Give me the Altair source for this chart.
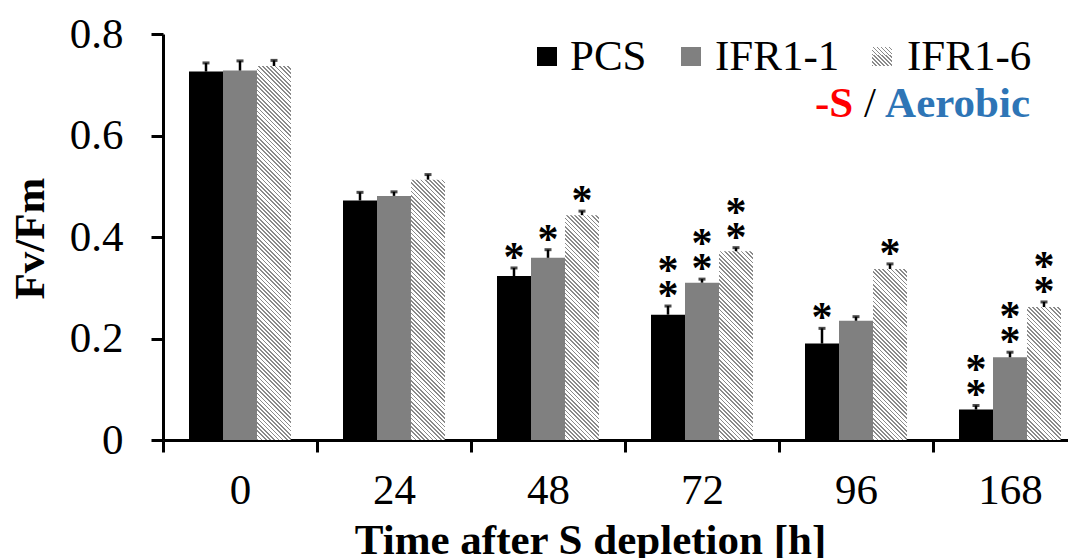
import altair as alt
import pandas as pd

# ---- data ----
times = ["0", "24", "48", "72", "96", "168"]
series = ["PCS", "IFR1-1", "IFR1-6"]
pcs = [0.726, 0.472, 0.323, 0.247, 0.190, 0.060]
ifr11 = [0.728, 0.481, 0.359, 0.310, 0.235, 0.163]
ifr16 = [0.737, 0.513, 0.443, 0.372, 0.337, 0.262]
err_pcs = [0.017, 0.016, 0.016, 0.017, 0.030, 0.008]
err_ifr11 = [0.019, 0.008, 0.016, 0.007, 0.008, 0.010]
err_ifr16 = [0.011, 0.010, 0.008, 0.007, 0.010, 0.010]
stars_pcs = [0, 0, 1, 2, 1, 2]
stars_ifr11 = [0, 0, 1, 2, 0, 2]
stars_ifr16 = [0, 0, 1, 2, 1, 2]

rows = []
for i, t in enumerate(times):
    for s, vals, errs, st in zip(series, [pcs, ifr11, ifr16],
                                 [err_pcs, err_ifr11, err_ifr16],
                                 [stars_pcs, stars_ifr11, stars_ifr16]):
        rows.append(dict(time=t, series=s, value=vals[i], top=vals[i] + errs[i], stars=st[i]))
df = pd.DataFrame(rows)

FONT = "Liberation Serif"
FS = 43
PLOT_H = 406
YMAX = 0.8
BAR_W = 34
PX_PER_UNIT = PLOT_H / YMAX


def stripes(w, h, period=4.2, frac=0.4, color="#8a8a8a"):
    n = max(1, round((w + h) / period))
    s = (w + h) / (w * w + h * h)
    stops = []
    for k in range(n):
        a, b, c = k / n, (k + frac) / n, (k + 1) / n
        stops += [alt.GradientStop(offset=a, color=color),
                  alt.GradientStop(offset=b, color=color),
                  alt.GradientStop(offset=b, color="#ffffff"),
                  alt.GradientStop(offset=c, color="#ffffff")]
    return alt.LinearGradient(gradient="linear", stops=stops,
                              x1=0, y1=1, x2=s * w, y2=1 - s * h)


yscale = alt.Scale(domain=[0, YMAX], nice=False, zero=True)
xscale = alt.Scale(domain=times, range=[0, 924], paddingInner=0, paddingOuter=0)
xoscale = alt.Scale(domain=series, paddingInner=0, paddingOuter=26 / 34)

xaxis = alt.Axis(title="Time after S depletion [h]", titleFont=FONT, titleFontSize=FS,
                 titleFontWeight="bold", titleColor="black", titleX=427, titleY=113,
                 titleBaseline="alphabetic", titleAlign="center",
                 labelFont=FONT, labelFontSize=FS, labelColor="black", labelAngle=0,
                 labelBaseline="alphabetic", labelPadding=51,
                 tickBand="extent", tickSize=12, tickWidth=3, tickColor="black",
                 domainColor="black", domainWidth=3, grid=False)
yaxis = alt.Axis(title="Fv/Fm", titleFont=FONT, titleFontSize=FS, titleFontWeight="bold",
                 titleColor="black", titleX=-120, titleY=204, titleAngle=270,
                 titleBaseline="alphabetic", titleAlign="center",
                 values=[0, 0.2, 0.4, 0.6, 0.8], format="~g",
                 labelFont=FONT, labelFontSize=FS, labelColor="black", labelPadding=28,
                 tickSize=12, tickWidth=3, tickColor="black",
                 domainColor="black", domainWidth=3, grid=False)

X = alt.X("time:N", sort=times, scale=xscale, axis=xaxis)
XO = alt.XOffset("series:N", sort=series, scale=xoscale)


def Y(field):
    return alt.Y(field, scale=yscale, axis=yaxis, title="Fv/Fm")


bars = alt.Chart(df).mark_bar().encode(
    x=X, xOffset=XO, y=Y("value:Q"),
    color=alt.Color("series:N", scale=alt.Scale(domain=series, range=["#000000", "#808080", "#ffffff"]),
                    legend=None),
)

layers = [bars]
for i, t in enumerate(times):
    row = df[(df.time == t) & (df.series == "IFR1-6")]
    h = ifr16[i] * PX_PER_UNIT
    layers.append(alt.Chart(row).mark_bar(fill=stripes(BAR_W, h)).encode(
        x=X, xOffset=XO, y=Y("value:Q")))

rules = alt.Chart(df).mark_rule(color="black", strokeWidth=2.5).encode(
    x=X, xOffset=XO, y=Y("value:Q"), y2="top:Q")
caps = alt.Chart(df).mark_tick(color="black", thickness=3, size=7).encode(
    x=X, xOffset=XO, y=Y("top:Q"))
stars1 = alt.Chart(df[df.stars >= 1]).mark_text(text="*", font=FONT, fontSize=42, fontWeight="bold",
                                                dy=3, baseline="alphabetic", color="black").encode(
    x=X, xOffset=XO, y=Y("top:Q"))
stars2 = alt.Chart(df[df.stars >= 2]).mark_text(text="*", font=FONT, fontSize=42, fontWeight="bold",
                                                dy=-22, baseline="alphabetic", color="black").encode(
    x=X, xOffset=XO, y=Y("top:Q"))
layers += [rules, caps, stars1, stars2]

# ---- legend / annotation ----
one = pd.DataFrame({"a": [0]})
leg_fills = ["#000000", "#808080", stripes(20, 20)]
leg_x = [374, 518, 709]
leg_tx = [407, 552, 744]
for name, fill, lx, tx in zip(series, leg_fills, leg_x, leg_tx):
    layers.append(alt.Chart(one).mark_rect(fill=fill).encode(
        x=alt.value(lx), x2=alt.value(lx + 20), y=alt.value(13), y2=alt.value(32)))
    layers.append(alt.Chart(one).mark_text(text=name, font=FONT, fontSize=FS, align="left",
                                           baseline="alphabetic", color="black").encode(
        x=alt.value(tx), y=alt.value(36)))

layers.append(alt.Chart(one).mark_text(text="-S", font=FONT, fontSize=FS, fontWeight="bold",
                                       align="left", baseline="alphabetic", color="#ff0000").encode(
    x=alt.value(652), y=alt.value(83)))
layers.append(alt.Chart(one).mark_text(text="/", font=FONT, fontSize=FS, align="center",
                                       baseline="alphabetic", color="black").encode(
    x=alt.value(707), y=alt.value(83)))
layers.append(alt.Chart(one).mark_text(text="Aerobic", font=FONT, fontSize=FS, fontWeight="bold",
                                       align="right", baseline="alphabetic", color="#2e75b6").encode(
    x=alt.value(867), y=alt.value(83)))

chart = alt.layer(*layers).properties(
    width=905, height=PLOT_H,
    autosize=alt.AutoSizeParams(type="none"),
    padding={"left": 155, "top": 26, "right": 0, "bottom": 126},
).configure_view(stroke=None)

chart.save("out.html", embed_options={"renderer": "svg", "actions": False})
